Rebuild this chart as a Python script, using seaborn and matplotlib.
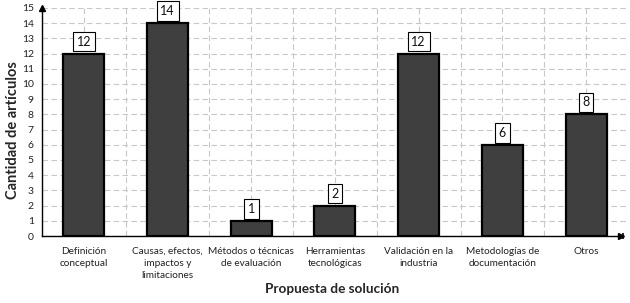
import matplotlib
matplotlib.use("Agg")
import matplotlib.pyplot as plt
import seaborn as sns
import pandas as pd

categories = ["Definición\nconceptual", "Causas, efectos,\nimpactos y\nlimitaciones",
              "Métodos o técnicas\nde evaluación", "Herramientas\ntecnológicas",
              "Validación en la\nindustria", "Metodologías de\ndocumentación", "Otros"]
values = [12, 14, 1, 2, 12, 6, 8]
yticks = list(range(0, 16))

sns.set_style("white")
plt.rcParams['font.family'] = ['Lato', 'DejaVu Sans']

df = pd.DataFrame({"cat": categories, "val": values})

fig = plt.figure(figsize=(6.3, 3.03), dpi=100)
ax = fig.add_axes([0.0667, 0.221, 0.93, 0.753])

sns.barplot(data=df, x="cat", y="val", color="#3f3f3f", width=0.49,
            edgecolor="black", linewidth=1.6, saturation=1, ax=ax, zorder=3)

n = len(categories)
ax.set_xlim(-0.5, n - 0.5)
ax.set_ylim(0, 15)
ax.set_yticks(yticks)
ax.set_yticklabels([str(t) for t in yticks], fontsize=7.5, color="#222222")
ax.set_xticks(range(n))
ax.set_xticklabels(categories, fontsize=7.2, color="#222222", linespacing=1.4)
ax.set_xticks([i + 0.5 for i in range(-1, n)], minor=True)

ax.grid(True, which="major", axis="both", color="#c8c8c8", linestyle=(0, (5, 3)), linewidth=0.8, zorder=0)
ax.grid(True, which="minor", axis="x", color="#c8c8c8", linestyle=(0, (5, 3)), linewidth=0.8, zorder=0)
ax.set_axisbelow(True)

for s in ["top", "right"]:
    ax.spines[s].set_visible(False)
for s in ["left", "bottom"]:
    ax.spines[s].set_color("black")
    ax.spines[s].set_linewidth(1.0)
ax.spines["bottom"].set_bounds(-0.5, n - 0.57)

ax.tick_params(axis="y", which="major", direction="inout", length=6, width=0.8, pad=3, color="black")
ax.tick_params(axis="x", which="major", direction="out", length=3, width=0.8, pad=5, color="black")
ax.tick_params(axis="x", which="minor", length=0)

# axis arrows
ax.plot([0], [1.0], marker="^", color="black", markersize=4, transform=ax.transAxes, clip_on=False, zorder=5)
ax.plot([0.988], [0], marker=">", color="black", markersize=4, transform=ax.transAxes, clip_on=False, zorder=5)
ax.plot([0.992], [0], marker="|", color="black", markersize=5, markeredgewidth=1.2,
        transform=ax.transAxes, clip_on=False, zorder=5)

for i, v in enumerate(values):
    ax.annotate(str(v), xy=(i, v), xytext=(0, 12), textcoords="offset pixels",
                ha="center", va="center", fontsize=9, color="#111111",
                bbox=dict(boxstyle="square,pad=0.3", facecolor="white", edgecolor="black", linewidth=0.8),
                zorder=6)

ax.set_xlabel("")
ax.set_ylabel("")
fig.text(332 / 630, 1 - 289 / 303, "Propuesta de solución", fontsize=9.8, fontweight="bold",
         ha="center", va="center")
fig.text(13 / 630, 1 - 130 / 303, "Cantidad de artículos", fontsize=10.5, fontweight="bold",
         ha="center", va="center", rotation=90)

fig.savefig("out.png", dpi=100)
